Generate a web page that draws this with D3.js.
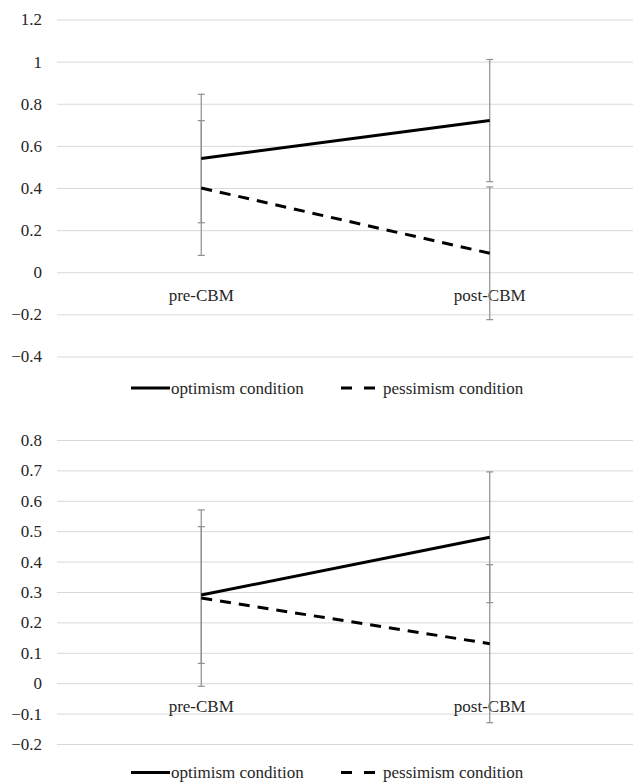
<!DOCTYPE html>
<html>
<head>
<meta charset="utf-8">
<script src="https://cdn.jsdelivr.net/npm/d3@7"></script>
<style>
  body { margin: 0; background: #fff; }
  svg { display: block; }
  svg text { font-family: "Liberation Serif", "Tinos", "Times New Roman", Times, "DejaVu Serif", serif; }
  .grid line { stroke: #d9d9d9; stroke-width: 1; }
  .grid .domain { display: none; }
  .grid text { font-size: 17px; fill: #262626; }
</style>
</head>
<body>
<svg id="chart" width="633" height="783"></svg>
<script>
// Chart data
const categories = ["pre-CBM", "post-CBM"];
const seriesNames = ["optimism condition", "pessimism condition"];

// top panel
const topOptimism = [0.54, 0.72];
const topOptimismErr = [0.305, 0.29];
const topPessimism = [0.40, 0.09];
const topPessimismErr = [0.32, 0.315];
const topTicks = [-0.4, -0.2, 0, 0.2, 0.4, 0.6, 0.8, 1, 1.2];

// bottom panel
const bottomOptimism = [0.29, 0.48];
const bottomOptimismErr = [0.225, 0.215];
const bottomPessimism = [0.28, 0.13];
const bottomPessimismErr = [0.29, 0.26];
const bottomTicks = [-0.2, -0.1, 0, 0.1, 0.2, 0.3, 0.4, 0.5, 0.6, 0.7, 0.8];

const svg = d3.select("#chart");
const plotLeft = 57, plotRight = 634;

const x = d3.scalePoint().domain(categories).range([plotLeft, plotRight]).padding(0.5);

//Draw one panel
function drawPanel(opts) {
  const y = d3.scaleLinear().domain(opts.domain).range(opts.range);
  const g = svg.append("g");

  //gridlines + tick labels
  g.append("g")
    .attr("class", "grid")
    .attr("transform", `translate(${plotLeft},0)`)
    .call(d3.axisLeft(y).tickValues(opts.ticks).tickSize(-(plotRight - plotLeft + 2))
      .tickFormat(d => d3.format("")(+d.toFixed(1))))
    .attr("font-family", null)
    .attr("font-size", null)
    .selectAll("text")
    .attr("x", 42 - plotLeft);

  //category labels next to zero line
  g.selectAll(".cat")
    .data(categories)
    .join("text")
    .attr("class", "cat")
    .attr("x", d => x(d))
    .attr("y", y(0) + 28.5)
    .attr("text-anchor", "middle")
    .attr("font-size", "17px")
    .attr("fill", "#262626")
    .text(d => d);

  const series = [
    { vals: opts.opt, err: opts.optErr, dash: null },
    { vals: opts.pess, err: opts.pessErr, dash: "11,8" }
  ];

  //error bars
  series.forEach(s => {
    const eb = g.append("g").attr("stroke", "#8f8f8f").attr("stroke-width", 1.2);
    categories.forEach((c, i) => {
      const hi = y(s.vals[i] + s.err[i]), lo = y(s.vals[i] - s.err[i]);
      eb.append("line").attr("x1", x(c)).attr("x2", x(c)).attr("y1", hi).attr("y2", lo);
      eb.append("line").attr("x1", x(c) - 3.5).attr("x2", x(c) + 3.5).attr("y1", hi).attr("y2", hi);
      eb.append("line").attr("x1", x(c) - 3.5).attr("x2", x(c) + 3.5).attr("y1", lo).attr("y2", lo);
    });
  });

  //lines
  const line = d3.line().x((d, i) => x(categories[i])).y(d => y(d));
  series.forEach(s => {
    g.append("path")
      .datum(s.vals)
      .attr("d", line)
      .attr("fill", "none")
      .attr("stroke", "#000")
      .attr("stroke-width", 3)
      .attr("stroke-dasharray", s.dash);
  });

  //legend
  const lg = g.append("g").attr("transform", `translate(0,${opts.legendY})`);
  lg.append("line").attr("x1", 131).attr("x2", 170).attr("y1", 0).attr("y2", 0)
    .attr("stroke", "#000").attr("stroke-width", 3);
  lg.append("text").attr("x", 171).attr("y", 5.5).attr("font-size", "17px").attr("fill", "#262626")
    .text(seriesNames[0]);
  lg.append("line").attr("x1", 341).attr("x2", 376).attr("y1", 0).attr("y2", 0)
    .attr("stroke", "#000").attr("stroke-width", 3).attr("stroke-dasharray", "11,12");
  lg.append("text").attr("x", 383).attr("y", 5.5).attr("font-size", "17px").attr("fill", "#262626")
    .text(seriesNames[1]);
}

drawPanel({
  domain: [-0.4, 1.2], range: [356.5, 19.5], ticks: topTicks,
  opt: topOptimism, optErr: topOptimismErr,
  pess: topPessimism, pessErr: topPessimismErr,
  legendY: 388
});

drawPanel({
  domain: [-0.2, 0.8], range: [744, 440], ticks: bottomTicks,
  opt: bottomOptimism, optErr: bottomOptimismErr,
  pess: bottomPessimism, pessErr: bottomPessimismErr,
  legendY: 772.5
});
</script>
</body>
</html>
